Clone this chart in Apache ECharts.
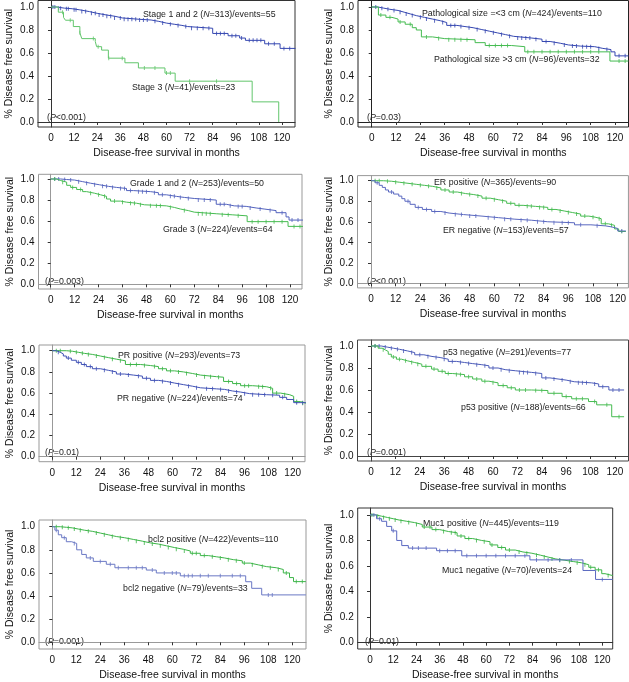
<!DOCTYPE html>
<html><head><meta charset="utf-8">
<script src="https://cdn.jsdelivr.net/npm/echarts@6/dist/echarts.min.js"></script>
<style>html,body{margin:0;padding:0;background:#fff}#c{width:629px;height:682px}</style>
</head><body><div id="c"></div>
<script>
// ---- tick labels ----
const monthTicks = [0,12,24,36,48,60,72,84,96,108,120];
const survTicks = [0,0.2,0.4,0.6,0.8,1.0];

// ---- Panel 1: stage ----
const stage12T = [0,3,7,11,15,20,24,29,33,37,46,52,56,60,64,68,71,84,92,98,101,111,119,127];
const stage12S = [1,0.99,0.985,0.975,0.96,0.945,0.93,0.92,0.905,0.893,0.887,0.875,0.86,0.85,0.84,0.83,0.815,0.77,0.75,0.73,0.71,0.68,0.64,0.64];
const stage12C = [1,2,4,5,8,9,12,13,16,18,21,23,25,27,29,31,33,36,38,40,42,44,46,48,50,54,58,62,66,70,73,76,79,82,86,88,90,94,96,99,103,105,107,109,113,116,121,124];
const stage3T = [0,3.8,6.5,7.5,11.6,15,16,23,23.7,26.3,29.8,38.4,45.4,59.2,64.5,104.5,118.3];
const stage3S = [1,0.955,0.91,0.885,0.83,0.775,0.725,0.70,0.655,0.625,0.555,0.515,0.47,0.425,0.355,0.175,0];
const stage3C = [6,10,15,22,24.5,30,37,48.5,54,60,62,72,86];

// ---- Panel 2: pathological size ----
const smallT = [0,3,6,9,13,16,19,22,26,30,34,37,42,46,50,54,58,62,66,70,79,84,88,93,97,103,110,114,118,120,126.6];
const smallS = [1,0.99,0.98,0.97,0.955,0.94,0.925,0.91,0.895,0.88,0.865,0.84,0.83,0.82,0.805,0.79,0.775,0.76,0.745,0.73,0.72,0.70,0.685,0.67,0.66,0.655,0.64,0.63,0.61,0.575,0.575];
const smallC = [2,5,8,11,14,17,20,24,27,31,35,39,41,44,48,52,56,60,64,68,72,74,76,78,81,86,90,95,99,101,104,106,108,112,116,122,125];
const largeT = [0,3.3,7,10,13,16.5,20,22,24.5,30,36,51,56,69,75.5,117.5,126.6];
const largeS = [1,0.93,0.91,0.895,0.87,0.85,0.82,0.80,0.74,0.725,0.715,0.69,0.665,0.655,0.61,0.53,0.53];
const largeC = [4.5,9,14,19,27,33,38,41,44,47,58,61,64,67,77,80,84,88,92,96,100,104,108,112,122,125];

// ---- Panel 3: grade ----
const g12T = [0,5,8,12,16,20,24.5,29,33,38,41.5,50,54,58,63,67,72,83,88,92,98,103,107,113,118,119.5,126.5];
const g12S = [1,0.995,0.99,0.975,0.96,0.945,0.93,0.92,0.91,0.89,0.88,0.87,0.85,0.835,0.825,0.815,0.80,0.76,0.745,0.74,0.725,0.715,0.70,0.68,0.64,0.61,0.61];
const g12C = [2,4,7,10,14,18,22,26,28,31,35,37,40,44,46,48,52,56,60,62,65,69,74,77,80,85,87,90,94,96,100,105,110,116,121,124];
const g3T = [0,3,5,8,10,13,16,18,22,25,28,30,35,38,43,47,58,62,65,69,72,83,91,98.5,119,126.5];
const g3S = [1,0.985,0.97,0.94,0.92,0.90,0.88,0.865,0.85,0.835,0.81,0.79,0.78,0.77,0.755,0.745,0.73,0.715,0.70,0.685,0.67,0.66,0.65,0.595,0.55,0.55];
const g3C = [2,6,11,15,20,24,27,32,36,40,42,45,50,53,55,60,67,74,76,78,80,86,89,94,101,104,108,112,116,122,125];

// ---- Panel 4: ER ----
const erPosT = [0,6,10,14,18,22,26,30,34,38,42,46,50,54,58,62,66,70,74,80,86,90,94,98,102,106,109,112,115.5,118.5,120.5,124];
const erPosS = [1,0.995,0.985,0.975,0.965,0.955,0.945,0.93,0.91,0.89,0.875,0.865,0.85,0.83,0.815,0.80,0.78,0.76,0.75,0.74,0.72,0.705,0.69,0.675,0.655,0.645,0.63,0.58,0.565,0.53,0.505,0.505];
const erPosC = [2,4,8,12,16,20,24,28,32,36,40,44,48,52,56,60,64,68,72,76,78,82,84,88,92,96,100,104,108,111,114,117,122];
const erNegT = [0,2,4,5.5,7,8.5,11,13.5,15,16.5,19,21.5,25,29.5,34,38,45,54,62,70,78,86,99,107,114,117,120,124];
const erNegS = [1,0.98,0.955,0.935,0.91,0.89,0.87,0.85,0.825,0.80,0.77,0.74,0.72,0.70,0.685,0.67,0.655,0.64,0.625,0.615,0.60,0.59,0.57,0.56,0.55,0.535,0.51,0.51];
const erNegC = [3,10,18,23,27,31,36,41,44,48,51,57,60,65,68,73,76,81,84,89,93,96,102,110,122];

// ---- Panel 5: PR ----
const prPosT = [0,7,10,13,16,20,24,28,32,36.5,44,49,53,57,61,65.5,70,74,82,85.5,90,94,100,107,110,114,118.5,120.5,124,126.6];
const prPosS = [1,0.995,0.985,0.975,0.965,0.95,0.935,0.92,0.905,0.87,0.86,0.85,0.83,0.81,0.80,0.785,0.77,0.755,0.75,0.71,0.69,0.67,0.66,0.645,0.60,0.585,0.57,0.52,0.505,0.505];
const prPosC = [2,4,9,12,15,18,22,26,30,34,39,42,46,51,55,59,63,67,72,76,79,83,88,92,96,98,103,105,109,112,116,122,125];
const prNegT = [0,2,4,5.5,7,9.5,12,14.5,17,20,24,28,32,36,40.5,45,49,53,57,61,65.5,70,74,82,86,90,94,98.5,107,113.5,117,120.5,126.6];
const prNegS = [1,0.985,0.97,0.95,0.93,0.91,0.89,0.87,0.85,0.83,0.815,0.80,0.78,0.77,0.76,0.74,0.72,0.71,0.695,0.68,0.665,0.65,0.64,0.635,0.62,0.61,0.595,0.585,0.58,0.56,0.54,0.51,0.51];
const prNegC = [3,8,13,16,19,22,26,30,34,38,43,47,51,55,59,63,68,72,77,80,84,88,92,96,100,103,106,110,115,122,125];

// ---- Panel 6: p53 ----
const p53NegT = [0,5,8,11,14,18,21.5,26,30,34,38,42,46,50,54.5,58,62.5,66,71,79,84,88,92,96,100,108.5,112,117,124.5];
const p53NegS = [1,0.99,0.98,0.97,0.955,0.94,0.92,0.905,0.895,0.88,0.86,0.85,0.84,0.83,0.82,0.80,0.785,0.775,0.76,0.75,0.71,0.70,0.69,0.675,0.665,0.655,0.63,0.60,0.60];
const p53NegC = [2,4,7,10,13,16,20,24,28,32,36,40,44,48,52,56,60,64,68,73,75,77,81,86,90,94,98,102,104,106,110,114,119,122];
const p53PosT = [0,3.5,5.5,7,8.5,10,12.5,15,18,21.5,25,29.8,33,36.5,40,46,50,54.5,58,62.5,67,71,79,87,94,98.7,107,111,118.4,124.5];
const p53PosS = [1,0.98,0.965,0.95,0.925,0.90,0.88,0.865,0.85,0.835,0.815,0.79,0.77,0.75,0.74,0.72,0.70,0.68,0.665,0.64,0.62,0.60,0.595,0.57,0.54,0.52,0.495,0.465,0.357,0.357];
const p53PosC = [2,6,11,14,17,20,23,27,31,35,38,42,44,48,52,56,60,65,69,73,76,81,84,90,96,101,104,110,116,122];

// ---- Panel 7: bcl2 ----
const bclPosT = [0,4,7,10,13,16,20,24,28,32,36,40.5,45,49,53,57,61,65.5,69,74,78,82,86,90.5,95,99,103,107,112,115.5,118.6,120.6,126.8];
const bclPosS = [1,0.995,0.99,0.98,0.97,0.96,0.945,0.93,0.915,0.905,0.89,0.875,0.86,0.85,0.835,0.82,0.805,0.79,0.77,0.75,0.74,0.73,0.715,0.705,0.685,0.67,0.655,0.645,0.63,0.60,0.56,0.525,0.525];
const bclPosC = [2,5,8,11,14,18,22,26,30,34,38,42,46,50,54,58,62,66,70,72,76,80,84,88,92,96,100,105,109,113,117,122,125];
const bclNegT = [0,1.3,3,4.7,7,9.7,12.2,14.7,17,20.5,27,31.3,47,52,64,96.7,99.7,104.7,126.8];
const bclNegS = [1,0.97,0.93,0.905,0.87,0.855,0.80,0.76,0.73,0.70,0.675,0.645,0.625,0.60,0.575,0.524,0.467,0.41,0.41];
const bclNegC = [2,6,11,19,24,29,33,38,42,45,50,56,60,62,66,68,70,74,78,84,90,94,108,110];

// ---- Panel 8: Muc1 ----
const mucPosT = [0,3,6,9,12,15,19,23,27,32,36,40.5,45,49,53,57.7,62,66,70,75,79,83.6,88,92,96,100.7,105,109.3,113,116.3,119.7,121.4,125.4];
const mucPosS = [1,0.99,0.98,0.97,0.96,0.95,0.94,0.925,0.905,0.885,0.87,0.86,0.835,0.815,0.80,0.79,0.765,0.745,0.725,0.71,0.70,0.685,0.67,0.655,0.645,0.635,0.625,0.61,0.59,0.57,0.54,0.525,0.525];
const mucPosC = [1,4,7,10,13,16,20,24,28,31,34,38,42,44,47,51,55,59,63,68,72,77,81,86,90,94,98,103,107,111,114,118,123];
const mucNegT = [0,3.4,6,8.6,11.2,13.8,16.4,19.8,34.4,47.4,82.6,110,116.5,125.4];
const mucNegS = [1,0.97,0.95,0.91,0.875,0.80,0.76,0.74,0.72,0.68,0.648,0.565,0.495,0.495];
const mucNegC = [2,5,12,22,25,29,36,40,44,50,55,60,65,70,75,80,86,92,98,104,120];

const FONT = '"Liberation Sans", Arial, sans-serif';

const panels = [
  {box:[38,0.5,257,126.5], x:[-6.75,126.75], y:[-0.0435,1.0565], border:'#333',
   curves:[[stage12T,stage12S,stage12C,'#3446b0'],[stage3T,stage3S,stage3C,'#62c66c']],
   notes:[[143,15,'Stage 1 and 2 ({i|N}=313)/events=55'],[132,88,'Stage 3 ({i|N}=41)/events=23'],[47,118,'({i|P}<0.001)']]},
  {box:[358,0.5,270.5,126.5], x:[-6.76,126.66], y:[-0.0435,1.0565], border:'#222',
   curves:[[smallT,smallS,smallC,'#3446b0'],[largeT,largeS,largeC,'#44bb50']],
   notes:[[422,14,'Pathological size =<3 cm ({i|N}=424)/events=110'],[434,60,'Pathological size >3 cm ({i|N}=96)/events=32'],[367,118,'({i|P}=0.03)']]},
  {box:[38.5,174.3,263.5,114.7], x:[-6.12,126.0], y:[-0.0446,1.0446], border:'#999',
   curves:[[g12T,g12S,g12C,'#5262bd'],[g3T,g3S,g3C,'#45bb50']],
   notes:[[130,184,'Grade 1 and 2 ({i|N}=253)/events=50'],[163,230,'Grade 3 ({i|N}=224)/events=64'],[45,282,'({i|P}=0.003)']]},
  {box:[357.5,175.6,271,112.3], x:[-6.57,125.24], y:[-0.045,1.05], border:'#999',
   curves:[[erPosT,erPosS,erPosC,'#45bb50'],[erNegT,erNegS,erNegC,'#5a68c0']],
   notes:[[434,183,'ER positive ({i|N}=365)/events=90'],[443,231,'ER negative ({i|N}=153)/events=57'],[367,282,'({i|P}<0.001)']]},
  {box:[39,345,266,116.7], x:[-6.64,126.16], y:[-0.047,1.0538], border:'#999',
   curves:[[prPosT,prPosS,prPosC,'#3cb548'],[prNegT,prNegS,prNegC,'#3f50b5']],
   notes:[[118,356,'PR positive ({i|N}=293)/events=73'],[117,399,'PR negative ({i|N}=224)/events=74'],[45,453,'({i|P}=0.01)']]},
  {box:[357.5,340,271,121], x:[-6.64,126.66], y:[-0.0455,1.0545], border:'#444',
   curves:[[p53NegT,p53NegS,p53NegC,'#4a5ab8'],[p53PosT,p53PosS,p53PosC,'#45bb50']],
   notes:[[443,353,'p53 negative ({i|N}=291)/events=77'],[461,408,'p53 positive ({i|N}=188)/events=66'],[367,453,'({i|P}=0.001)']]},
  {box:[39,520,267,129], x:[-6.65,126.85], y:[-0.058,1.058], border:'#999',
   curves:[[bclPosT,bclPosS,bclPosC,'#3cb548'],[bclNegT,bclNegS,bclNegC,'#6a78c4']],
   notes:[[148,540,'bcl2 positive ({i|N}=422)/events=110'],[123,589,'bcl2 negative ({i|N}=79)/events=33'],[45,642,'({i|P}=0.001)']]},
  {box:[357.7,508,255,142.7], x:[-6.35,125.36], y:[-0.0495,1.054], border:'#333',
   curves:[[mucPosT,mucPosS,mucPosC,'#3cb548'],[mucNegT,mucNegS,mucNegC,'#5a68c0']],
   notes:[[423,524,'Muc1 positive ({i|N}=445)/events=119'],[442,571,'Muc1 negative ({i|N}=70)/events=24'],[365,642,'({i|P}=0.01)']]}
];

function stepAt(t, s, x) {
  let v = s[0];
  for (let i = 0; i < t.length; i++) { if (t[i] <= x) v = s[i]; }
  return v;
}

const grids = [], xAxes = [], yAxes = [], series = [], graphics = [];
panels.forEach((p, k) => {
  grids.push({left:p.box[0], top:p.box[1], width:p.box[2], height:p.box[3], show:true,
    borderColor:p.border, borderWidth:1, backgroundColor:'transparent'});
  xAxes.push({type:'value', gridIndex:k, min:p.x[0], max:p.x[1],
    name:'Disease-free survival in months', nameLocation:'middle', nameGap:21,
    nameTextStyle:{fontSize:10.5, color:'#111', fontFamily:FONT},
    axisLine:{show:true, lineStyle:{color:p.border, width:1}},
    axisTick:{show:true, inside:false, length:3, customValues:monthTicks, lineStyle:{color:'#333'}},
    axisLabel:{customValues:monthTicks, fontSize:10, color:'#111', fontFamily:FONT, margin:6.5},
    splitLine:{show:false}});
  yAxes.push({type:'value', gridIndex:k, min:p.y[0], max:p.y[1],
    name:'% Disease free survival', nameLocation:'middle', nameGap:23,
    nameTextStyle:{fontSize:10.5, color:'#111', fontFamily:FONT},
    axisLine:{show:true, lineStyle:{color:p.border, width:1}},
    axisTick:{show:true, inside:false, length:3, customValues:survTicks, lineStyle:{color:'#333'}},
    axisLabel:{customValues:survTicks, fontSize:10, color:'#111', fontFamily:FONT, margin:4,
      formatter:v => Number(v).toFixed(1)},
    splitLine:{show:false}});
  p.curves.forEach(([t, s, c, color]) => {
    series.push({type:'line', xAxisIndex:k, yAxisIndex:k, step:'end', symbol:'none', showSymbol:false,
      silent:true, lineStyle:{width:1, color:color}, itemStyle:{color:color},
      data:t.map((x, i) => [x, s[i]])});
    series.push({type:'scatter', xAxisIndex:k, yAxisIndex:k, symbol:'rect', symbolSize:[1,4],
      silent:true, itemStyle:{color:color},
      data:c.map(x => [x, stepAt(t, s, x)])});
  });
  p.notes.forEach(([x, y, txt]) => {
    graphics.push({type:'text', x:x, y:y, silent:true,
      style:{text:txt, fill:'#222', fontSize:8.8, fontFamily:FONT, align:'left', verticalAlign:'middle',
        rich:{i:{fontStyle:'italic', fontSize:8.8, fontFamily:FONT, fill:'#222'}}}});
  });
});

const chart = echarts.init(document.getElementById('c'), null, {renderer:'canvas'});
chart.setOption({animation:false, backgroundColor:'#fff', grid:grids, xAxis:xAxes, yAxis:yAxes,
  series:series, graphic:graphics});
</script></body></html>
